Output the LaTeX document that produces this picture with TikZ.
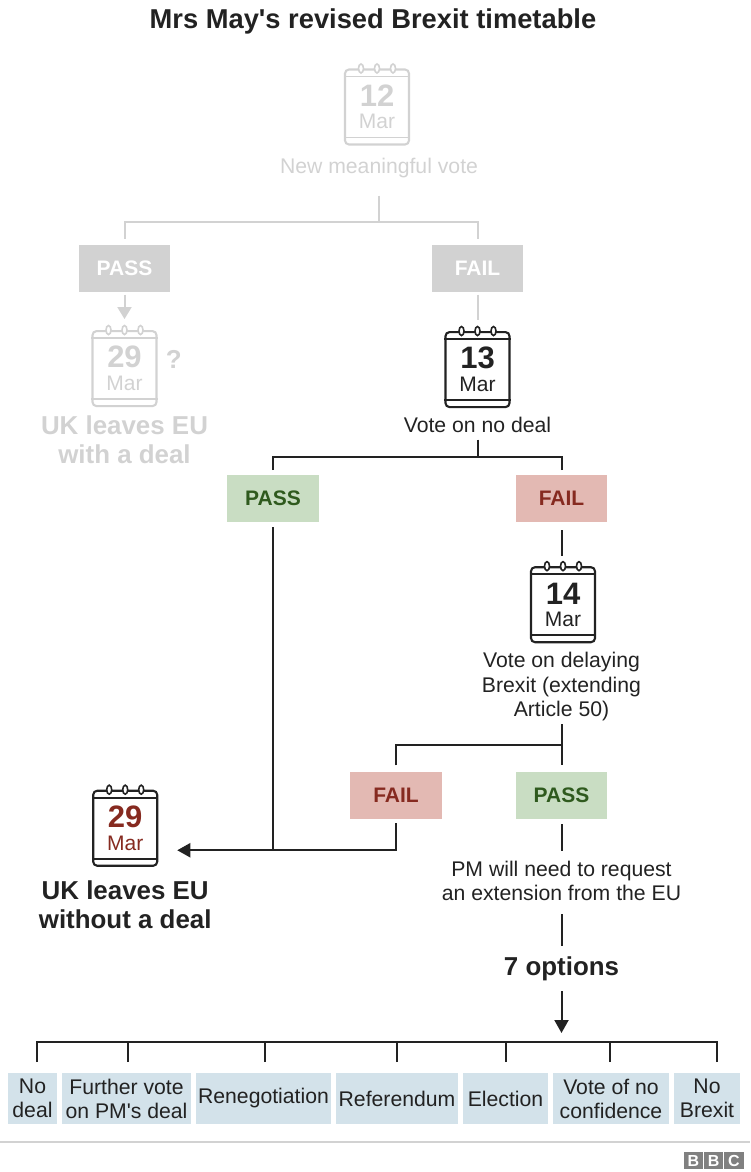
\documentclass[tikz,border=0pt]{standalone}
\usepackage{fontspec}
\setmainfont{Liberation Sans}[Ligatures=TeXOff]
\usetikzlibrary{positioning, calc, arrows.meta}

\definecolor{greyline}{HTML}{D2D2D2}
\definecolor{darkline}{HTML}{222222}
\definecolor{passfill}{HTML}{C9DDC3}
\definecolor{passtext}{HTML}{2F5A1E}
\definecolor{failfill}{HTML}{E3B9B3}
\definecolor{failtext}{HTML}{862A20}
\definecolor{optfill}{HTML}{D3E2EA}

% rules and rings of a calendar node
\newcommand{\calmarks}[2]{
    \draw[#2, line width=1.8pt] ([yshift=-8pt]#1.north west) -- ([yshift=-8pt]#1.north east);
    \draw[#2, line width=1.8pt] ([yshift=8pt]#1.south west) -- ([yshift=8pt]#1.south east);
    \foreach \ring in {-16,0,16} {
        \draw[#2, fill=white, line width=1.6pt] ([xshift=\ring pt]#1.north) ellipse (2.5pt and 4.5pt);
    }
}
\newcommand{\calday}[1]{{\fontsize{31}{24}\selectfont\bfseries #1}}
\newcommand{\calmon}[1]{{\fontsize{21}{24}\selectfont #1}}

\begin{document}
\begin{tikzpicture}[
        x=1pt, y=-1pt,
        node distance=10pt,
        cal_box/.style={rectangle, draw=#1, text=#1, line width=2.1pt, rounded corners=4pt, minimum width=64pt, minimum height=75pt, align=center, inner sep=0pt},
        verdict_box/.style={rectangle, minimum width=91.5pt, minimum height=47pt, inner sep=0pt, outer sep=0pt, font=\fontsize{21}{24}\selectfont\bfseries},
        grey_box/.style={verdict_box, fill=greyline, text=white},
        pass_box/.style={verdict_box, fill=passfill, text=passtext},
        fail_box/.style={verdict_box, fill=failfill, text=failtext},
        label_text/.style={align=center, inner sep=0pt, text=darkline, font=\fontsize{21.2}{24.5}\selectfont},
        big_text/.style={align=center, inner sep=0pt, text=darkline, font=\fontsize{25.9}{29.5}\selectfont\bfseries},
        opt_box/.style={rectangle, fill=optfill, text=darkline, minimum height=51pt, inner sep=0pt, outer sep=0pt, align=center, font=\fontsize{21.2}{24}\selectfont},
        logo_box/.style={rectangle, fill=black!50, text=white, minimum width=19.5pt, minimum height=17pt, inner sep=0pt, outer sep=0pt, font=\fontsize{16}{16}\selectfont\bfseries},
        link/.style={line width=2pt, draw=darkline},
        arrow/.style={link, -{Triangle[width=14pt, length=13pt]}},
        grey_link/.style={line width=2pt, draw=greyline}
    ]
    \useasboundingbox (0,0) rectangle (750,1172);

    % --- NODES ---
    \node[inner sep=0pt, text=darkline, font=\fontsize{27.3}{30}\selectfont\bfseries] (title) at (373,21) {Mrs May's revised Brexit timetable};

    \node[cal_box=greyline] (cal_12) at (377,107) {\calday{12}\\[7pt]\calmon{Mar}};
    \node[label_text, text=greyline, below=12pt of cal_12, xshift=2pt] (vote_new) {New meaningful vote};
    \node[grey_box, below=99pt of cal_12, xshift=-252.5pt] (pass_a) {PASS};
    \node[grey_box, below=99pt of cal_12, xshift=100.5pt] (fail_a) {FAIL};

    \node[cal_box=greyline, below=38.5pt of pass_a] (cal_deal) {\calday{29}\\[7pt]\calmon{Mar}};
    \node[big_text, text=greyline, right=8pt of cal_deal, yshift=9pt] (maybe) {?};
    \node[big_text, text=greyline, below=8pt of cal_deal] (leave_deal) {UK leaves EU\\with a deal};

    \node[cal_box=darkline, below=39.5pt of fail_a] (cal_13) {\calday{13}\\[7pt]\calmon{Mar}};
    \node[label_text, below=8.5pt of cal_13] (vote_nodeal) {Vote on no deal};
    \node[pass_box, below=67pt of cal_13, xshift=-204.5pt] (pass_b) {PASS};
    \node[fail_box, below=67pt of cal_13, xshift=84pt] (fail_b) {FAIL};

    \node[cal_box=darkline, below=44pt of fail_b, xshift=1.5pt] (cal_14) {\calday{14}\\[7pt]\calmon{Mar}};
    \node[label_text, below=9pt of cal_14, xshift=-1.5pt] (vote_delay) {Vote on delaying\\Brexit (extending\\Article 50)};
    \node[fail_box, below=129pt of cal_14, xshift=-167pt] (fail_c) {FAIL};
    \node[pass_box, below=129pt of cal_14, xshift=-1.5pt] (pass_c) {PASS};

    \node[cal_box=darkline, text=failtext, left=192pt of fail_c, yshift=-32.5pt] (cal_nodeal) {\calday{29}\\[7pt]\calmon{Mar}};
    \node[big_text, below=13.5pt of cal_nodeal] (leave_nodeal) {UK leaves EU\\without a deal};
    \node[label_text, below=41.5pt of pass_c] (extension) {PM will need to request\\an extension from the EU};
    \node[big_text, below=55.5pt of extension] (options) {7 options};

    \node[opt_box, minimum width=49pt] (opt_a) at (32.5,1098.5) {No\\deal};
    \node[opt_box, minimum width=129pt, right=5pt of opt_a] (opt_b) {Further vote\\on PM's deal};
    \node[opt_box, minimum width=135pt, right=5pt of opt_b] (opt_c) {Renegotiation};
    \node[opt_box, minimum width=122pt, right=5pt of opt_c] (opt_d) {Referendum};
    \node[opt_box, minimum width=85pt, right=5pt of opt_d] (opt_e) {Election};
    \node[opt_box, minimum width=116pt, right=5pt of opt_e] (opt_f) {Vote of no\\confidence};
    \node[opt_box, minimum width=66pt, right=5pt of opt_f] (opt_g) {No\\Brexit};

    \node[logo_box] (logo_c) at (734,1160.5) {C};
    \node[logo_box, left=0.8pt of logo_c] (logo_b) {B};
    \node[logo_box, left=0.8pt of logo_b] (logo_a) {B};

    % --- JUNCTIONS ---
    \coordinate[below=76pt of cal_12, xshift=2pt] (fork_a);
    \coordinate[below=49pt of cal_13] (fork_b);
    \coordinate[above=27pt of pass_c] (fork_c);
    \coordinate[below=31pt of fail_c] (arrow_end_base);
    \coordinate (arrow_end) at ($(cal_nodeal.east |- arrow_end_base)+(19,0)$);
    \coordinate[above=31pt of opt_a, xshift=4pt] (bus_left);
    \coordinate[above=31pt of opt_g, xshift=10pt] (bus_right);
    \coordinate (rule_left) at (0,1142);
    \coordinate (rule_right) at (750,1142);

    % --- CONNECTIONS ---
    \draw[grey_link, shorten <=18pt] (vote_new.south) -- (fork_a);
    \draw[grey_link, shorten <=6pt] (pass_a.north) |- (fork_a);
    \draw[grey_link, shorten <=6pt] (fail_a.north) |- (fork_a);
    \draw[grey_link, shorten <=3pt, -{Triangle[width=14pt, length=12pt]}] (pass_a.south) -- ([yshift=11pt]pass_a.south |- cal_deal.north);
    \draw[grey_link, shorten <=3pt, shorten >=11pt] (fail_a.south) -- (cal_13.north);

    \draw[link, shorten <=7pt] (vote_nodeal.south) -- (fork_b);
    \draw[link, shorten <=5pt] (pass_b.north) |- (fork_b);
    \draw[link, shorten <=5pt] (fail_b.north) |- (fork_b);
    \draw[link, shorten <=8pt, shorten >=10pt] (fail_b.south) -- (fail_b.south |- cal_14.north);

    \draw[link, shorten <=3pt, shorten >=7pt] (vote_delay.south) -- (pass_c.north);
    \draw[link, shorten <=7pt] (fail_c.north) |- (fork_c);
    \draw[link, shorten <=5pt] (pass_b.south) -- (pass_b.south |- arrow_end);
    \draw[arrow, shorten <=4pt] (fail_c.south) |- (arrow_end);

    \draw[link, shorten <=5pt, shorten >=10pt] (pass_c.south) -- (extension.north);
    \draw[link, shorten <=13pt, shorten >=11pt] (extension.south) -- (options.north);
    \draw[arrow, shorten <=10pt, shorten >=9pt] (options.south) -- (options.south |- bus_left);
    \draw[link, line cap=rect] (bus_left) -- (bus_right);
    \foreach \opt/\dx in {a/4, b/1.5, c/1.5, d/0, e/0.5, f/-1, g/10} {
        \draw[link] ([xshift=\dx pt, yshift=11pt]opt_\opt.north) -- ([xshift=\dx pt]opt_\opt.north |- bus_left);
    }
    \draw[grey_link] (rule_left) -- (rule_right);

    % --- CALENDAR DETAILS ---
    \calmarks{cal_12}{greyline}
    \calmarks{cal_deal}{greyline}
    \calmarks{cal_13}{darkline}
    \calmarks{cal_14}{darkline}
    \calmarks{cal_nodeal}{darkline}
\end{tikzpicture}
\end{document}
